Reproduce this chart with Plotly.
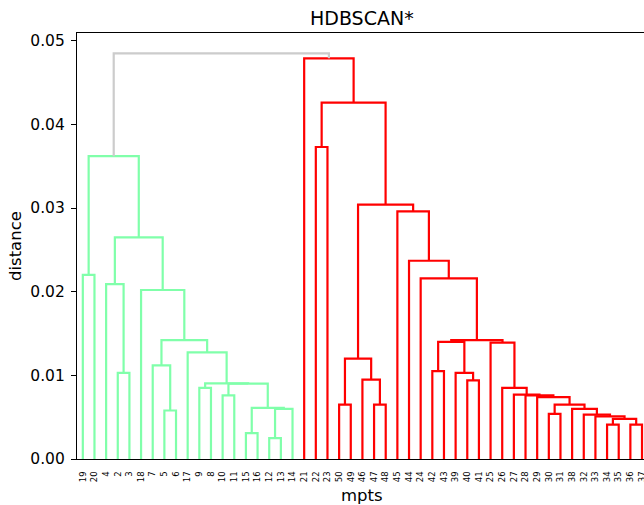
import plotly.graph_objects as go

# Leaf order along the x axis
leaf_labels = [
    "19", "20", "4", "2", "3", "18", "7", "5", "6", "17", "9", "8", "10", "11",
    "15", "16", "12", "13", "14",
    "21", "22", "23", "50", "49", "46", "47", "48", "45", "44", "24", "42", "43",
    "39", "40", "41", "25", "26", "27", "28", "29", "30", "31", "38", "32", "33",
    "34", "35", "36", "37",
]

# Merges: (node name, left child, right child, merge distance)
green_links = [
    ("a1", "19", "20", 0.0220),
    ("a2", "2", "3", 0.0103),
    ("a3", "4", "a2", 0.0209),
    ("a4", "5", "6", 0.0058),
    ("a5", "7", "a4", 0.0112),
    ("a6", "9", "8", 0.0085),
    ("a7", "10", "11", 0.0076),
    ("a8", "15", "16", 0.0031),
    ("a9", "12", "13", 0.0025),
    ("a10", "a9", "14", 0.0060),
    ("a11", "a8", "a10", 0.0061),
    ("a12", "a7", "a11", 0.0090),
    ("a13", "a6", "a12", 0.00905),
    ("a14", "17", "a13", 0.01275),
    ("a15", "a5", "a14", 0.0142),
    ("a16", "18", "a15", 0.0202),
    ("a17", "a3", "a16", 0.0265),
    ("a18", "a1", "a17", 0.0362),
]

red_links = [
    ("b1", "22", "23", 0.0373),
    ("b2", "50", "49", 0.0065),
    ("b3", "47", "48", 0.0065),
    ("b4", "46", "b3", 0.0095),
    ("b5", "b2", "b4", 0.0120),
    ("b6", "42", "43", 0.0105),
    ("b7", "40", "41", 0.0094),
    ("b8", "39", "b7", 0.0103),
    ("b9", "b6", "b8", 0.0140),
    ("b10", "34", "35", 0.0041),
    ("b11", "36", "37", 0.0041),
    ("b12", "b10", "b11", 0.0048),
    ("b13", "33", "b12", 0.0051),
    ("b14", "32", "b13", 0.0053),
    ("b15", "38", "b14", 0.0060),
    ("b16", "30", "31", 0.0054),
    ("b17", "b16", "b15", 0.0065),
    ("b18", "29", "b17", 0.0074),
    ("b19", "28", "b18", 0.0076),
    ("b20", "27", "b19", 0.0077),
    ("b21", "26", "b20", 0.0085),
    ("b22", "25", "b21", 0.0139),
    ("b23", "b9", "b22", 0.0142),
    ("b24", "24", "b23", 0.0216),
    ("b25", "44", "b24", 0.0237),
    ("b26", "45", "b25", 0.0296),
    ("b27", "b5", "b26", 0.0304),
    ("b28", "b1", "b27", 0.0426),
    ("b29", "21", "b28", 0.0479),
]

root_links = [
    ("root", "a18", "b29", 0.0485),
]

link_groups = [
    (green_links, "#80ffaa"),
    (red_links, "#ff0000"),
    (root_links, "#cccccc"),
]

y_ticks = [0.00, 0.01, 0.02, 0.03, 0.04, 0.05]

# Dendrogram layout: leaves at 5, 15, 25, ...; merged nodes sit midway between children
pos = {lab: 5 + 10 * i for i, lab in enumerate(leaf_labels)}
hgt = {lab: 0.0 for lab in leaf_labels}

fig = go.Figure()
max_h = 0.0
for links, color in link_groups:
    xs, ys = [], []
    for name, left, right, h in links:
        xl, xr = pos[left], pos[right]
        xs += [xl, xl, xr, xr, None]
        ys += [hgt[left], h, h, hgt[right], None]
        pos[name] = (xl + xr) / 2
        hgt[name] = h
        max_h = max(max_h, h)
    fig.add_trace(go.Scatter(
        x=xs, y=ys, mode="lines",
        line=dict(color=color, width=2.2),
        hoverinfo="skip", showlegend=False,
    ))

font_family = "DejaVu Sans"
fig.update_layout(
    width=644, height=505,
    margin=dict(l=77, r=0, t=33, b=46, autoexpand=False),
    paper_bgcolor="white", plot_bgcolor="white",
    font=dict(family=font_family, color="black"),
    showlegend=False,
)
fig.update_xaxes(
    range=[0, 486.7],
    automargin=False,
    tickmode="array",
    tickvals=[5 + 10 * i for i in range(len(leaf_labels))],
    ticktext=leaf_labels,
    tickangle=-90,
    ticklabeloverflow="allow",
    tickfont=dict(size=8.5, family=font_family, color="black"),
    ticks="outside", ticklen=8, tickcolor="rgba(0,0,0,0)",
    showgrid=False, zeroline=False,
    showline=True, linecolor="black", linewidth=1.1, mirror=True,
)
fig.update_yaxes(
    range=[0, max_h * 1.05],
    automargin=False,
    tickmode="array",
    tickvals=y_ticks,
    ticktext=[f"{v:.2f}" for v in y_ticks],
    tickfont=dict(size=15.5, family=font_family, color="black"),
    ticks="outside", ticklen=5, tickwidth=1.1, tickcolor="black",
    ticklabelstandoff=3,
    showgrid=False, zeroline=False,
    showline=True, linecolor="black", linewidth=1.1, mirror=False,
)

# Axis titles and chart title, placed relative to the plot area
fig.add_annotation(
    text="mpts", xref="paper", yref="paper", x=0.503, y=0,
    xanchor="center", yanchor="middle", yshift=-36, showarrow=False,
    font=dict(size=16.5, family=font_family, color="black"),
)
fig.add_annotation(
    text="distance", xref="paper", yref="paper", x=0, y=0.5,
    xanchor="center", yanchor="middle", xshift=-62, textangle=-90,
    showarrow=False,
    font=dict(size=16.5, family=font_family, color="black"),
)
fig.add_annotation(
    text="HDBSCAN*", xref="paper", yref="paper", x=0.503, y=1,
    xanchor="center", yanchor="middle", yshift=15, showarrow=False,
    font=dict(size=19, family=font_family, color="black"),
)

fig.write_html("out.html")
